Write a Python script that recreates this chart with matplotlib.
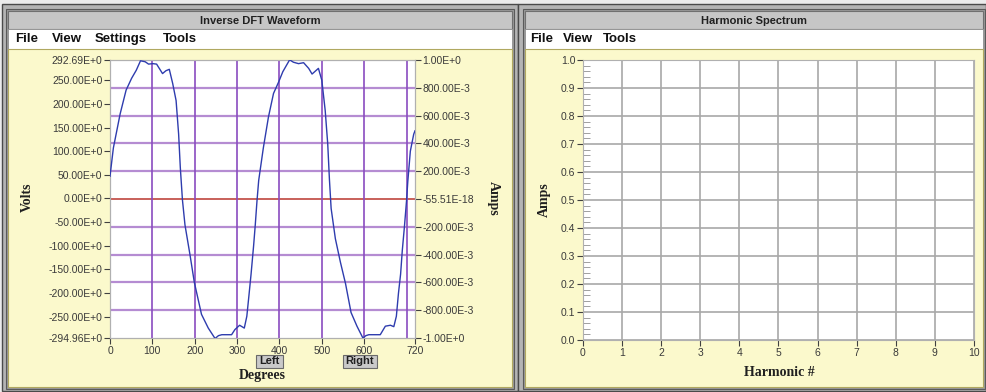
import numpy as np
import matplotlib.pyplot as plt
from matplotlib.patches import Rectangle
from matplotlib.ticker import MultipleLocator

# waveform (degrees, volts)
wave_deg = [0, 8, 24, 38, 51, 62, 72, 83, 91, 101, 110, 124, 132, 140, 148, 156, 162, 166,
            171, 177, 189, 199, 216, 232, 248, 256, 264, 276, 287, 295, 306, 317, 323, 328,
            333, 339, 343, 347, 351, 362, 374, 386, 398, 408, 424, 433, 445, 457, 469, 477,
            487, 492, 500, 508, 514, 518, 522, 532, 544, 556, 569, 583, 597, 604, 611, 622,
            638, 650, 662, 670, 676, 681, 686, 690, 695, 700, 703, 709, 717, 720]
wave_volts = [47, 107, 179, 229, 254, 271, 291, 289, 284, 285, 284, 264, 270, 273, 243, 207, 136, 65,
              -3, -56, -120, -177, -245, -274, -296, -290, -288, -288, -288, -277, -268, -274, -249, -205,
              -160, -100, -55, -5, 38, 107, 172, 222, 246, 268, 293, 288, 285, 287, 275, 263,
              271, 275, 250, 186, 115, 40, -21, -85, -135, -180, -241, -270, -295, -290, -288, -288,
              -288, -270, -268, -271, -249, -200, -160, -110, -60, -5, 36, 100, 136, 143]

volt_ticks = [292.69, 250, 200, 150, 100, 50, 0, -50, -100, -150, -200, -250, -294.96]
volt_labels = ["292.69E+0", "250.00E+0", "200.00E+0", "150.00E+0", "100.00E+0", "50.00E+0",
               "0.00E+0", "-50.00E+0", "-100.00E+0", "-150.00E+0", "-200.00E+0", "-250.00E+0",
               "-294.96E+0"]
amp_ticks = [1.0, 0.8, 0.6, 0.4, 0.2, 0.0, -0.2, -0.4, -0.6, -0.8, -1.0]
amp_labels = ["1.00E+0", "800.00E-3", "600.00E-3", "400.00E-3", "200.00E-3", "-55.51E-18",
              "-200.00E-3", "-400.00E-3", "-600.00E-3", "-800.00E-3", "-1.00E+0"]
deg_ticks = [0, 100, 200, 300, 400, 500, 600, 720]
deg_grid = [100, 200, 300, 400, 500, 600, 700]
amp_grid = [0.8, 0.6, 0.4, 0.2, -0.2, -0.4, -0.6, -0.8]

harm_ticks = list(range(0, 11))
spec_ticks = [1.0, 0.9, 0.8, 0.7, 0.6, 0.5, 0.4, 0.3, 0.2, 0.1, 0.0]
spec_labels = ["1.0", "0.9", "0.8", "0.7", "0.6", "0.5", "0.4", "0.3", "0.2", "0.1", "0.0"]

W, H = 987, 392
YELLOW = "#fbf9cc"
GRAY = "#c6c6c6"
SANS = "Liberation Sans"
SERIF = "Liberation Serif"

fig = plt.figure(figsize=(W / 100, H / 100), dpi=100)
fig.patch.set_facecolor("#ececec")

bg = fig.add_axes([0, 0, 1, 1])
bg.set_xlim(0, W)
bg.set_ylim(H, 0)
bg.axis("off")


def rect(x0, y0, x1, y1, fc, ec="none", lw=1.0):
    bg.add_patch(Rectangle((x0, y0), x1 - x0, y1 - y0, facecolor=fc, edgecolor=ec, linewidth=lw))


def axes_px(x0, y0, x1, y1):
    return fig.add_axes([x0 / W, (H - y1) / H, (x1 - x0) / W, (y1 - y0) / H])


# window frames
for x0, x1 in [(2, 518), (518, 986)]:
    rect(x0, 4, x1, 391, "#b4b4b4", "#4a4a4a", 1.0)
for x0, x1, title, menus in [
    (8, 512, "Inverse DFT Waveform", [("File", 15), ("View", 52), ("Settings", 95), ("Tools", 163)]),
    (525, 983, "Harmonic Spectrum", [("File", 530), ("View", 563), ("Tools", 603)]),
]:
    rect(x0 - 2, 9, x1 + 2, 389, "#9a9a9a", "#5a5a5a", 0.8)
    rect(x0, 11, x1, 29, GRAY, "#707070", 0.8)
    rect(x0, 29, x1, 49, "white", "#909090", 0.6)
    rect(x0, 49, x1, 387, YELLOW, "#b0a860", 0.8)
    bg.text((x0 + x1) / 2, 21, title, ha="center", va="center", fontsize=8,
            fontweight="bold", family=SANS, color="#202020")
    for txt, mx in menus:
        bg.text(mx, 39, txt, ha="left", va="center", fontsize=9.5,
                fontweight="bold", family=SANS, color="#101010")

# ---- left plot: inverse DFT waveform ----
ax2 = axes_px(110, 60, 415, 338)
ax1 = ax2.twinx()
# put volts axis (curve) above amps axis (grid)
ax1.set_zorder(ax2.get_zorder() + 1)
ax1.patch.set_visible(False)
ax2.set_facecolor("white")

ax2.set_xlim(0, 720)
ax2.set_ylim(-1, 1)
ax1.set_ylim(-294.96, 292.69)

for a in amp_grid:
    ax2.axhline(a, color="#b58cd2", lw=1.6, zorder=1)
ax2.axhline(0, color="#c8605a", lw=1.4, zorder=1)
for d in deg_grid:
    ax1.axvline(d, color="#8a4cc0", lw=1.2, zorder=1)
ax1.plot(wave_deg, wave_volts, color="#2e3cae", lw=1.0, zorder=3)

# volts on the left, amps on the right
ax1.yaxis.tick_left()
ax1.yaxis.set_label_position("left")
ax2.yaxis.tick_right()
ax2.yaxis.set_label_position("right")
ax1.set_yticks(volt_ticks)
ax1.set_yticklabels(volt_labels)
ax2.set_yticks(amp_ticks)
ax2.set_yticklabels(amp_labels)
ax2.set_xticks(deg_ticks)
ax2.set_xticklabels([str(d) for d in deg_ticks])
ax1.tick_params(axis="x", bottom=False, labelbottom=False, top=False)

for a in (ax1, ax2):
    a.tick_params(labelsize=7.5, length=4, width=0.8, color="#404040", labelcolor="#3a3a3a", pad=1.5)
    for lab in a.get_xticklabels() + a.get_yticklabels():
        lab.set_family(SANS)
    for s in a.spines.values():
        s.set_color("#b0b0b0")
        s.set_linewidth(0.8)

bg.text(27, 197, "Volts", rotation=90, ha="center", va="center", fontsize=10,
        fontweight="bold", family=SERIF, color="#202020")
bg.text(493, 198, "Amps", rotation=-90, ha="center", va="center", fontsize=10,
        fontweight="bold", family=SERIF, color="#202020")
bg.text(262, 376, "Degrees", ha="center", va="center", fontsize=10,
        fontweight="bold", family=SERIF, color="#202020")

# Left / Right buttons
for bx0, bx1, label in [(256, 283, "Left"), (343, 377, "Right")]:
    rect(bx0, 355, bx1, 368, "#c9c9c9", "#6a6a6a", 0.8)
    bg.text((bx0 + bx1) / 2, 361.5, label, ha="center", va="center", fontsize=8,
            fontweight="bold", family=SANS, color="#202020")

# ---- right plot: harmonic spectrum ----
ax3 = axes_px(583, 60, 974, 340)
ax3.set_facecolor("white")
ax3.set_xlim(0, 10)
ax3.set_ylim(0, 1)
ax3.set_xticks(harm_ticks)
ax3.set_xticklabels([str(h) for h in harm_ticks])
ax3.set_yticks(spec_ticks)
ax3.set_yticklabels(spec_labels)
ax3.yaxis.set_minor_locator(MultipleLocator(0.02))
ax3.grid(True, which="major", color="#a8a8a8", lw=1.2)
ax3.set_axisbelow(True)
ax3.tick_params(labelsize=7.5, length=4, width=0.8, color="#404040", labelcolor="#3a3a3a", pad=1.5)
ax3.tick_params(axis="y", which="minor", direction="in", length=5, width=0.6, color="#909090")
for lab in ax3.get_xticklabels() + ax3.get_yticklabels():
    lab.set_family(SANS)
for s in ax3.spines.values():
    s.set_color("#b0b0b0")
    s.set_linewidth(0.8)

bg.text(544, 200, "Amps", rotation=90, ha="center", va="center", fontsize=10,
        fontweight="bold", family=SERIF, color="#202020")
bg.text(779, 373, "Harmonic #", ha="center", va="center", fontsize=10,
        fontweight="bold", family=SERIF, color="#202020")

fig.savefig("out.png", dpi=100, facecolor=fig.get_facecolor())
